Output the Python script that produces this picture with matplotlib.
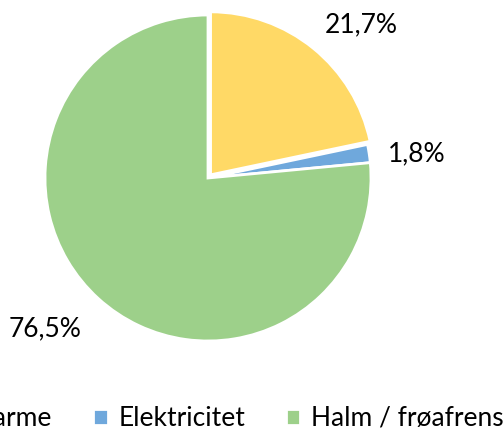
import numpy as np
import matplotlib
matplotlib.use("Agg")
import matplotlib.pyplot as plt

# data
categories = ["Varme", "Elektricitet", "Halm / frøafrensning"]
shares = [21.7, 1.8, 76.5]
labels = ["21,7%", "1,8%", "76,5%"]
colors = ["#FFD966", "#6FA8DC", "#9DD08A"]
explode = [0.025, 0.0, 0.0]

plt.rcParams['font.family'] = ['Lato', 'DejaVu Sans']

fig = plt.figure(figsize=(5.04, 4.34), dpi=100)
# pie centre at (208, 178) px from top-left, radius ~163 px
lim = 1.5
side = 2 * lim * 163
cx, cy = 208, 434 - 178
ax = fig.add_axes([(cx - side / 2) / 504, (cy - side / 2) / 434, side / 504, side / 434])

wedges, _ = ax.pie(shares, colors=colors, startangle=90, counterclock=False,
                   explode=explode, radius=1.0,
                   wedgeprops=dict(edgecolor="white", linewidth=2))
ax.set_xlim(-lim, lim)
ax.set_ylim(-lim, lim)
ax.set_aspect("equal")
ax.axis("off")

# labels outside the slices (Excel "best fit" style)
dist = [1.33, 1.29, 1.36]
shift = [-6, -2, -5]
for w, lab, d, s in zip(wedges, labels, dist, shift):
    ang = np.deg2rad((w.theta1 + w.theta2) / 2 + s)
    ax.text(d * np.cos(ang), d * np.sin(ang), lab, ha="center", va="center",
            fontsize=19, color="#000000")

fig.legend(wedges, categories, loc="lower center", bbox_to_anchor=(0.5, -0.048),
           ncol=3, frameon=False, fontsize=19, handlelength=0.55,
           handleheight=0.55, handletextpad=0.4, columnspacing=1.55)

fig.savefig("out.png", dpi=100)
